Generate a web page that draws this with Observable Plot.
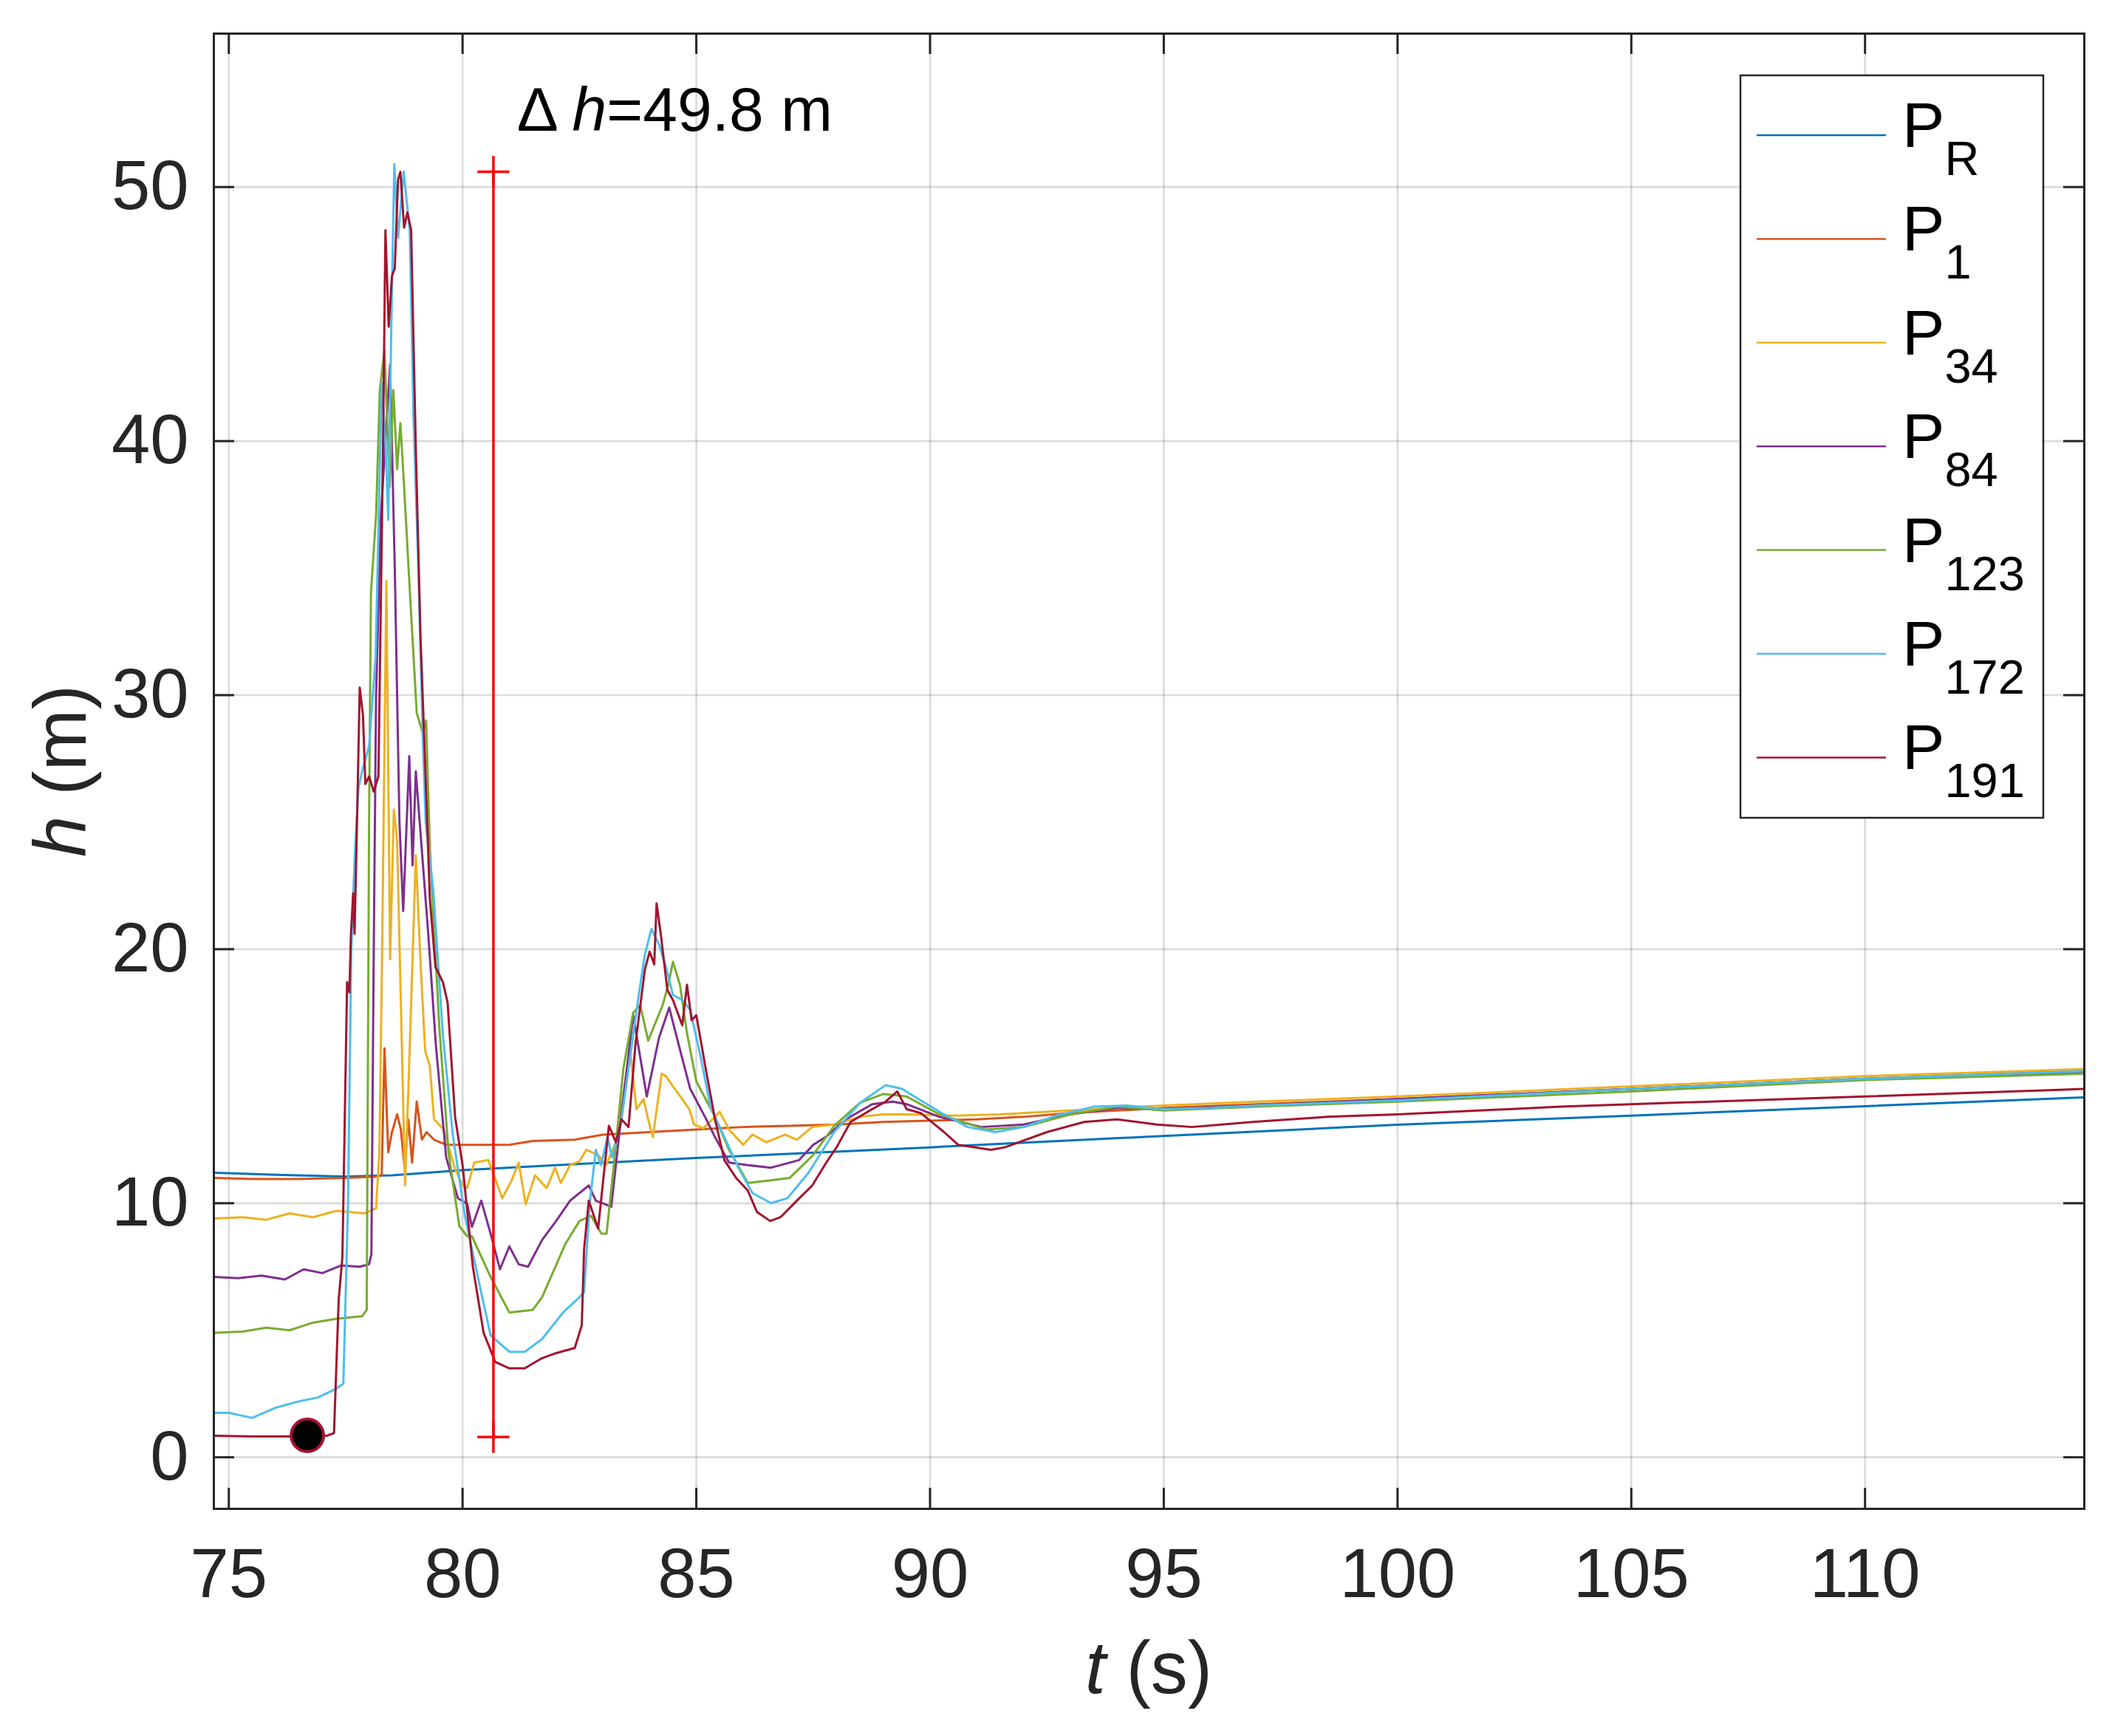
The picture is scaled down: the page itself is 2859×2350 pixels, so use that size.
<!DOCTYPE html>
<html>
<head>
<meta charset="utf-8">
<script src="https://cdn.jsdelivr.net/npm/d3@7"></script>
<script src="https://cdn.jsdelivr.net/npm/@observablehq/plot@0.6"></script>
<style>
  html, body { margin: 0; padding: 0; background: #fff; }
</style>
</head>
<body>
<div id="chart"></div>
<script>
// ---------- data (t in s, h in m) ----------
const xTicks = [75, 80, 85, 90, 95, 100, 105, 110];
const yTicks = [0, 10, 20, 30, 40, 50];
const xDomain = [74.68, 114.69];
const yDomain = [-2.03, 56.04];

const seriesNames = ["R", "1", "34", "84", "123", "172", "191"];
const seriesColors = ["#0072BD", "#D95319", "#EDB120", "#7E2F8E", "#77AC30", "#4DBEEE", "#A2142F"];

const P_R = [[74.68,11.2],[76,11.12],[77.5,11.05],[78.5,11.1],[80,11.3],[82,11.5],[85,11.78],[90,12.2],[95,12.65],[100,13.09],[105,13.45],[110,13.82],[114.69,14.17]];

const P_1 = [[74.68,11.0],[75.5,10.95],[76.5,10.95],[77.5,11.0],[78.2,11.05],[78.27,11.1],[78.33,16.1],[78.41,12.0],[78.49,12.8],[78.6,13.5],[78.68,12.9],[78.76,11.4],[78.84,13.3],[78.92,11.6],[79.02,14.0],[79.13,12.5],[79.23,12.8],[79.39,12.5],[79.65,12.3],[80.1,12.3],[81,12.3],[81.5,12.45],[82.4,12.5],[83,12.7],[84,12.8],[85,12.9],[86,13.0],[87,13.05],[88,13.1],[89,13.2],[90,13.25],[91,13.3],[92,13.4],[93,13.55],[94,13.65],[95,13.75],[97,13.9],[100,14.1],[105,14.5],[110,14.9],[114.69,15.22]];

const P_34 = [[74.68,9.4],[75.3,9.45],[75.8,9.35],[76.3,9.6],[76.8,9.45],[77.3,9.7],[77.9,9.6],[78.15,9.8],[78.22,12],[78.28,20],[78.37,34.5],[78.45,19.6],[78.53,25.5],[78.6,24.3],[78.77,10.7],[78.85,15.0],[79.0,23.7],[79.1,19.5],[79.2,16.0],[79.3,15.4],[79.39,13.3],[79.6,12.9],[79.83,11.4],[80.0,10.7],[80.1,10.6],[80.25,11.6],[80.55,11.7],[80.85,10.2],[81.05,10.9],[81.2,11.6],[81.35,9.95],[81.55,11.1],[81.8,10.6],[81.98,11.4],[82.1,10.8],[82.3,11.5],[82.5,11.65],[82.65,12.1],[82.9,11.9],[83.07,11.5],[83.3,12.5],[83.58,16.1],[83.72,13.7],[83.87,14.1],[83.97,13.3],[84.07,12.6],[84.26,15.1],[84.35,15.0],[84.5,14.6],[84.7,14.1],[84.85,13.7],[84.95,13.1],[85.15,12.95],[85.4,13.4],[85.5,13.6],[85.7,12.9],[86.0,12.3],[86.2,12.7],[86.5,12.4],[86.9,12.7],[87.15,12.5],[87.48,13.0],[87.95,13.1],[88.5,13.4],[89.0,13.5],[89.5,13.5],[90.5,13.45],[91.5,13.5],[92.5,13.6],[93.5,13.7],[94.5,13.8],[95,13.85],[97,14.0],[100,14.2],[105,14.6],[110,15.0],[114.69,15.28]];

const P_84 = [[74.68,7.1],[75.2,7.05],[75.7,7.15],[76.2,7.0],[76.6,7.4],[77.0,7.25],[77.4,7.55],[77.8,7.5],[78.0,7.6],[78.05,8],[78.1,20],[78.15,30],[78.25,37],[78.35,40],[78.45,43],[78.55,35],[78.65,25],[78.73,21.5],[78.86,27.6],[78.93,23.3],[79.0,27.0],[79.27,20.5],[79.43,16.2],[79.65,11.8],[79.9,10.2],[80.1,9.97],[80.2,9.07],[80.4,10.1],[80.6,8.8],[80.8,7.4],[81.0,8.3],[81.2,7.6],[81.4,7.5],[81.7,8.55],[82.0,9.3],[82.3,10.1],[82.7,10.7],[82.85,10.1],[83.0,10.0],[83.18,9.86],[83.4,13.5],[83.65,17.4],[83.94,14.2],[84.2,16.5],[84.42,17.7],[84.6,16.4],[84.87,14.5],[85.2,13.35],[85.4,12.6],[85.7,11.6],[86.1,11.5],[86.6,11.4],[87.2,11.7],[87.5,12.3],[87.8,12.65],[88.2,13.3],[88.76,13.9],[89.2,14.0],[89.5,13.9],[90.2,13.4],[91.1,13.0],[92.0,13.1],[93.0,13.5],[94.0,13.75],[95,13.7],[97,13.85],[100,14.1],[105,14.5],[110,14.9],[114.69,15.15]];

const P_123 = [[74.68,4.9],[75.3,4.95],[75.8,5.1],[76.3,5.0],[76.8,5.3],[77.3,5.45],[77.85,5.55],[77.95,5.8],[78.0,25],[78.04,34.0],[78.15,37.1],[78.23,42],[78.33,43.6],[78.44,38.2],[78.52,42.0],[78.6,38.9],[78.67,40.7],[78.75,38.2],[78.86,34.5],[79.02,29.3],[79.15,28.5],[79.22,29.0],[79.3,24],[79.5,17],[79.7,12],[79.93,9.1],[80.1,8.7],[80.2,8.7],[80.6,7.1],[81.0,5.7],[81.5,5.8],[81.7,6.3],[82.2,8.4],[82.5,9.3],[82.75,9.5],[82.97,8.8],[83.08,8.8],[83.23,11.4],[83.44,15.3],[83.65,17.5],[83.8,17.8],[83.97,16.4],[84.28,17.8],[84.4,18.6],[84.5,19.5],[84.65,18.6],[84.8,16.7],[85.0,14.8],[85.2,14.1],[85.4,13.4],[85.7,12.1],[86.1,10.8],[86.6,10.9],[87.0,11.0],[87.5,11.9],[87.95,13.05],[88.5,13.95],[89.0,14.3],[89.5,14.2],[90.2,13.5],[91.2,12.9],[92.0,13.0],[93.0,13.5],[94.0,13.8],[95,13.65],[97,13.8],[100,14.0],[105,14.4],[110,14.85],[114.69,15.1]];

const P_172 = [[74.68,1.75],[75.0,1.75],[75.5,1.55],[76.0,1.95],[76.5,2.2],[76.9,2.35],[77.3,2.7],[77.45,2.9],[77.55,10],[77.62,20],[77.69,23.5],[77.77,26.3],[77.85,27],[78.0,28],[78.14,31.5],[78.27,42.3],[78.35,40],[78.41,36.9],[78.48,45],[78.54,50.9],[78.62,48.0],[78.74,50.6],[78.87,48.3],[78.95,41],[79.05,35.2],[79.15,28.3],[79.21,25.0],[79.37,22.4],[79.58,16.6],[79.79,12.7],[80.05,9.5],[80.35,6.9],[80.6,4.8],[81.0,4.15],[81.33,4.15],[81.7,4.65],[82.15,5.7],[82.5,6.3],[82.6,6.5],[82.72,10],[82.85,12.1],[82.96,11.5],[83.1,12.6],[83.2,11.8],[83.4,13.3],[83.55,15.3],[83.77,18.2],[83.9,19.8],[84.04,20.8],[84.2,20.2],[84.35,19.3],[84.5,18.2],[84.7,18.0],[84.87,17.6],[85.1,15.7],[85.3,13.8],[85.6,12.6],[85.9,11.4],[86.2,10.4],[86.6,10.0],[86.95,10.2],[87.4,11.2],[87.95,12.8],[88.5,13.95],[89.05,14.65],[89.4,14.5],[90.2,13.6],[90.8,13.0],[91.4,12.8],[92.0,13.0],[92.7,13.45],[93.5,13.8],[94.2,13.85],[95,13.7],[96,13.75],[97,13.85],[100,14.05],[105,14.5],[110,14.9],[114.69,15.2]];

const P_191 = [[74.68,0.85],[75.5,0.82],[76.5,0.82],[77.1,0.85],[77.25,0.95],[77.35,6.2],[77.43,7.9],[77.53,18.7],[77.58,18.3],[77.61,20.5],[77.66,22.2],[77.69,20.6],[77.75,25.7],[77.8,30.3],[77.87,29.2],[77.92,26.5],[78.0,26.8],[78.1,26.2],[78.2,26.8],[78.3,40],[78.35,48.3],[78.42,44.5],[78.49,46.5],[78.55,46.8],[78.62,50.3],[78.67,50.6],[78.75,48.4],[78.82,49.0],[78.9,48.3],[79.0,39.7],[79.1,32.3],[79.18,28.3],[79.3,22],[79.42,19.3],[79.58,18.7],[79.68,17.9],[79.84,13.4],[80.0,11.5],[80.22,7.5],[80.45,4.9],[80.7,3.75],[81.0,3.5],[81.33,3.5],[81.7,3.9],[82.0,4.1],[82.4,4.3],[82.55,5.2],[82.6,8.2],[82.7,10.1],[82.9,9.0],[83.13,13.05],[83.28,12.4],[83.4,13.3],[83.55,13.0],[83.7,16.3],[83.9,19.2],[84.0,19.9],[84.1,19.4],[84.15,21.8],[84.24,20.6],[84.38,18.4],[84.5,18.0],[84.7,17.0],[84.8,18.6],[84.9,17.2],[85.0,17.4],[85.2,15.3],[85.4,13.3],[85.6,11.7],[85.85,11.0],[86.1,10.5],[86.3,9.65],[86.58,9.3],[86.8,9.45],[87.15,10.1],[87.48,10.7],[87.78,11.6],[88.0,12.2],[88.3,13.2],[88.76,13.7],[89.05,14.0],[89.3,14.4],[89.5,13.7],[89.8,13.55],[90.3,12.8],[90.6,12.3],[91.3,12.1],[91.6,12.2],[92.5,12.8],[93.3,13.2],[94.0,13.3],[94.85,13.1],[95.6,13.0],[96.9,13.2],[98.5,13.4],[100,13.5],[103.5,13.8],[105,13.9],[110,14.2],[114.69,14.5]];

const seriesData = [P_R, P_1, P_34, P_84, P_123, P_172, P_191];

// Δh marker (vertical red bar) and start point
const deltaBar = [{t: 80.66, lo: 0.8, hi: 50.6}];
const deltaLabel = {t: 81.17, h: 52.2, value: "49.8"};
const startPoint = [{t: 76.68, h: 0.86}];

// ---------- layout ----------
const W = 2859, H = 2350;
const mL = 289, mR = 38, mT = 45, mB = 308;
const plotW = W - mL - mR, plotH = H - mT - mB;
const tickLen = 28;
const ink = "#262626";
const font = "'Liberation Sans', Arial, Helvetica, sans-serif";

const lineMarks = seriesData.map((d, i) =>
  Plot.line(d, {x: p => p[0], y: p => p[1], stroke: seriesColors[i], strokeWidth: 3, clip: true})
);

const chart = Plot.plot({
  width: W, height: H,
  marginLeft: mL, marginRight: mR, marginTop: mT, marginBottom: mB,
  style: {fontFamily: font, color: ink, background: "#fff"},
  x: {domain: xDomain},
  y: {domain: yDomain},
  marks: [
    Plot.gridX(xTicks, {stroke: "#000", strokeOpacity: 0.14, strokeWidth: 2.7}),
    Plot.gridY(yTicks, {stroke: "#000", strokeOpacity: 0.14, strokeWidth: 2.7}),
    ...lineMarks,
    Plot.ruleX(deltaBar, {x: "t", y1: "lo", y2: "hi", stroke: "#FF0000", strokeWidth: 3.5}),
    Plot.dot(deltaBar.flatMap(d => [{t: d.t, h: d.lo}, {t: d.t, h: d.hi}]),
      {x: "t", y: "h", symbol: "plus", r: 14, stroke: "#FF0000", strokeWidth: 3.5}),
    Plot.dot(startPoint, {x: "t", y: "h", r: 22, fill: "#000", stroke: "#A2142F", strokeWidth: 4}),
    Plot.ruleX(xTicks, {insetTop: plotH - tickLen, stroke: ink, strokeWidth: 3}),
    Plot.ruleX(xTicks, {insetBottom: plotH - tickLen, stroke: ink, strokeWidth: 3}),
    Plot.ruleY(yTicks, {insetRight: plotW - tickLen, stroke: ink, strokeWidth: 3}),
    Plot.ruleY(yTicks, {insetLeft: plotW - tickLen, stroke: ink, strokeWidth: 3}),
    Plot.axisX(xTicks, {anchor: "bottom", tickSize: 0, tickPadding: 53, fontSize: 94, label: null, fill: ink}),
    Plot.axisY(yTicks, {anchor: "left", tickSize: 0, tickPadding: 34, fontSize: 94, label: null, fill: ink}),
    Plot.frame({stroke: ink, strokeWidth: 3})
  ]
});

document.getElementById("chart").appendChild(chart);

const svg = d3.select(chart);
const sx = chart.scale("x"), sy = chart.scale("y");

// axis titles with italic variables
const xl = svg.append("text")
  .attr("x", mL + plotW / 2).attr("y", 2292)
  .attr("text-anchor", "middle").attr("font-size", 100).attr("fill", ink).attr("font-family", font);
xl.append("tspan").attr("font-style", "italic").text("t");
xl.append("tspan").text(" (s)");

const yl = svg.append("text")
  .attr("transform", `translate(116,${mT + plotH / 2}) rotate(-90)`)
  .attr("text-anchor", "middle").attr("font-size", 100).attr("fill", ink).attr("font-family", font);
yl.append("tspan").attr("font-style", "italic").text("h");
yl.append("tspan").text(" (m)");

// Δh annotation
const an = svg.append("text")
  .attr("x", sx.apply(deltaLabel.t)).attr("y", sy.apply(deltaLabel.h))
  .attr("text-anchor", "start")
  .attr("font-size", 84).attr("fill", "#000").attr("font-family", font);
an.append("tspan").text("\u0394 ");
an.append("tspan").attr("font-style", "italic").text("h");
an.append("tspan").text("=" + deltaLabel.value + " m");

// legend
const lg = svg.append("g").attr("text-anchor", "start");
lg.append("rect").attr("x", 2356).attr("y", 102).attr("width", 410).attr("height", 1005)
  .attr("fill", "#fff").attr("stroke", ink).attr("stroke-width", 2.5);
seriesNames.forEach((name, i) => {
  const yLine = 183 + i * 140.4;
  lg.append("line").attr("x1", 2378).attr("x2", 2553).attr("y1", yLine).attr("y2", yLine)
    .attr("stroke", seriesColors[i]).attr("stroke-width", 2.5);
  const t = lg.append("text").attr("x", 2575).attr("y", yLine + 16)
    .attr("text-anchor", "start")
    .attr("font-size", 86).attr("fill", "#000").attr("font-family", font);
  t.append("tspan").text("P");
  t.append("tspan").attr("dy", 38).attr("font-size", 65).text(name);
});
</script>
</body>
</html>
